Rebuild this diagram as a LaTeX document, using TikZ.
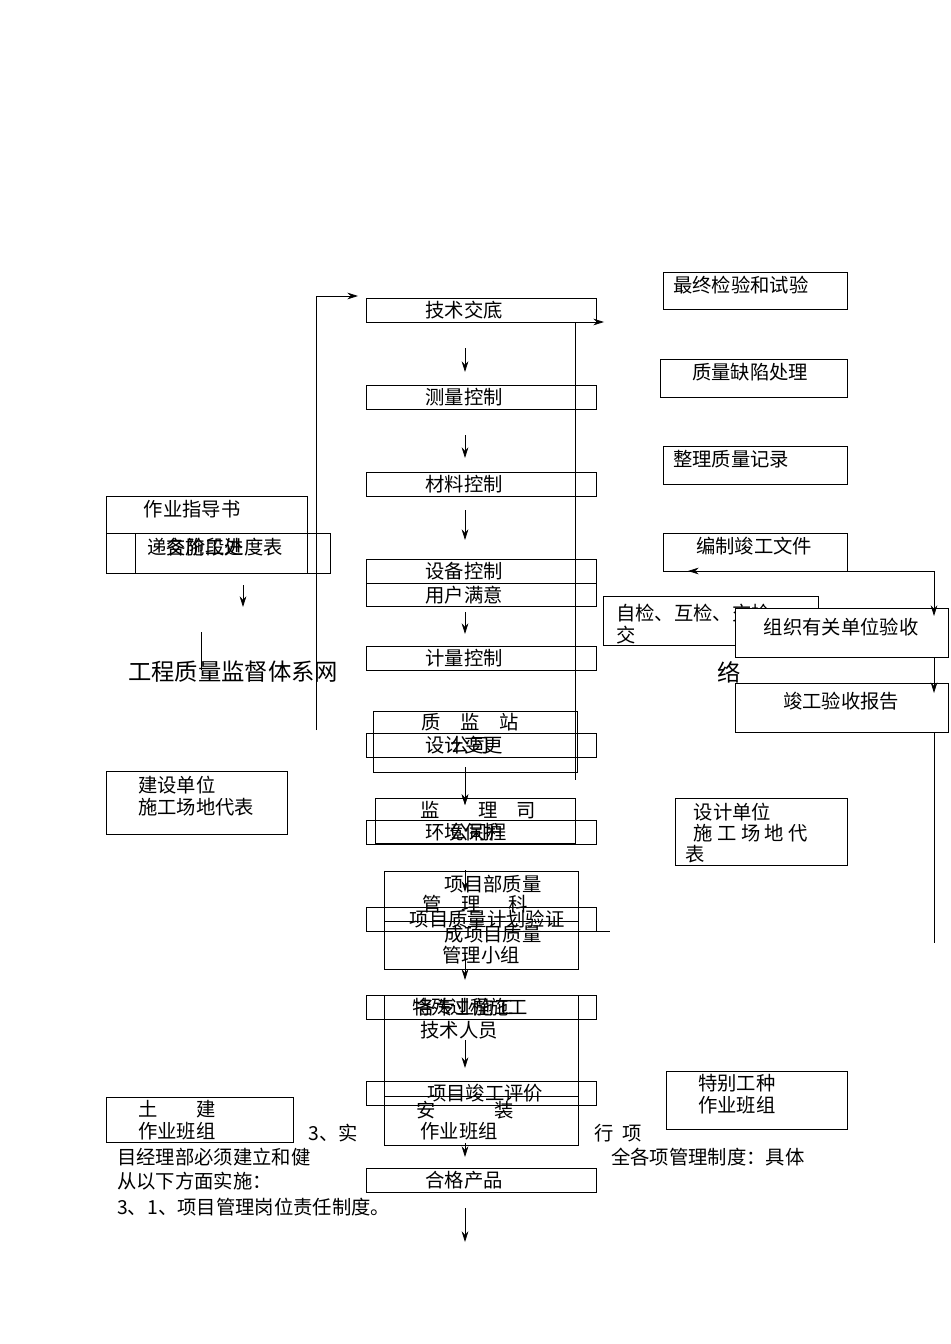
\documentclass[tikz,border=0pt]{standalone}
\usepackage{fontspec}
\setmainfont{Noto Sans CJK SC}
\tikzset{bx/.style={draw,line width=0.6pt},t/.style={font=\fontsize{14.5}{16}\selectfont,inner sep=0pt},ar/.style={-{Stealth[length=8pt,width=5pt]},line width=0.6pt},ln/.style={line width=0.6pt}}
\usetikzlibrary{arrows.meta}
\begin{document}
\begin{tikzpicture}[x=0.75pt,y=-0.75pt]
\useasboundingbox (0,0) rectangle (950,1344);
% center column boxes
\draw[bx] (366,298) rectangle (596,322); \node[t] (b1) at (464,310) {技术交底};
\draw[bx] (366,385) rectangle (596,409); \node[t] (b2) at (464,397) {测量控制};
\draw[bx] (366,472) rectangle (596,496); \node[t] (b3) at (464,484) {材料控制};
\draw[bx] (366,559) rectangle (596,583); \node[t] (b4) at (464,571) {设备控制};
\draw[bx] (366,583) rectangle (596,606); \node[t] (b5) at (464,595) {用户满意};
\draw[bx] (366,646) rectangle (596,670); \node[t] (b6) at (464,658) {计量控制};
\draw[ln] (430,670) -- (545,670);
\draw[bx] (373,711) rectangle (577,772); \node[t] (q1) at (470,722) {质\quad 监\quad 站};
\draw[bx] (366,733) rectangle (596,757); \node[t] (b7) at (464,745) {设计变更}; \node[t] at (470,745) {公司};
\draw[bx] (375,798) rectangle (575,843); \node[t] (q2) at (478,810) {监\qquad 理\quad 司};
\draw[bx] (366,820) rectangle (596,844); \node[t] (b8) at (464,832) {环境保护};\node[t] at (478,832) {公司程};
\draw[bx] (384,871) rectangle (578,969);
\node[t] (q3) at (493,884) {项目部质量}; \node[t] at (475,904) {管\quad 理\quad\ \ 科};
\node[t] at (493,934) {成项目质量}; \node[t] at (481,955) {管理小组};
\draw[bx] (366,907) rectangle (596,931); \node[t] (b9) at (487,919) {项目质量计划验证};
\draw[ln] (384,921) -- (578,921); \draw[ln] (596,931) -- (610,931);
\draw[bx] (384,995) rectangle (578,1145);
\draw[bx] (366,995) rectangle (596,1019); \node[t] (b10) at (470,1007) {特殊过程施工}; \node[t] at (465,1007) {各专业施工};
\node[t] at (459,1030) {技术人员};
\draw[bx] (366,1081) rectangle (596,1105); \node[t] (b11) at (485,1093) {项目竣工评价};
\draw[ln] (384,1096) -- (578,1096);
\node[t] at (465,1110) {安\qquad\quad 装}; \node[t] at (459,1131) {作业班组};
\draw[bx] (366,1168) rectangle (596,1192); \node[t] (b12) at (464,1180) {合格产品};
% arrows center
\foreach \a/\b in {348/372,435/458,510/540,612/634,767/805,785/805,870/892,955/980,1040/1068,1143/1157,1208/1242}
  \draw[ar] (465,\a) -- (465,\b);
% left
\draw[bx] (106,496) rectangle (307,533); \node[t] (l1) at (192,509) {作业指导书};
\draw[bx] (106,533) rectangle (307,573); \draw[bx] (135,533) rectangle (330,573);
\node[t] (l2) at (215,547) {递交阶段进度表}; \node[t] at (205,547) {各施工处};
\draw[ar] (243,585) -- (243,607);
\draw[ln] (201,632) -- (201,670);
\node[font=\fontsize{17.5}{19}\selectfont,inner sep=0pt] (title) at (233,672) {工程质量监督体系网};
\node[font=\fontsize{17.5}{19}\selectfont,inner sep=0pt] (title2) at (729,672) {络};
\coordinate (lc) at (316,730);
\draw[ar] (lc) -- (316,296) -- (358,296);
\draw[bx] (106,771) rectangle (287,834); \node[t,align=left,anchor=west] (l3) at (138,796) {建设单位\\施工场地代表};
\draw[bx] (106,1097) rectangle (293,1142); \node[t,align=left,anchor=west] (l4) at (138,1120) {土\qquad 建\\作业班组};
% paragraph text
\node[t,anchor=west] at (308,1133) {3、实}; \node[t,anchor=west] at (594,1133) {行\ \ 项};
\node[t,anchor=west] at (117,1157) {目经理部必须建立和健}; \node[t,anchor=west] at (611,1157) {全各项管理制度：具体};
\node[t,anchor=west] at (117,1181) {从以下方面实施：};
\node[t,anchor=west] at (117,1207) {3、1、项目管理岗位责任制度。};
% right
\draw[ln] (575,322) -- (575,780); \draw[ar] (575,322) -- (604,322);
\draw[bx] (663,272) rectangle (847,309); \node[t,anchor=west] (r1) at (673,285) {最终检验和试验};
\draw[bx] (660,359) rectangle (847,397); \node[t,anchor=west] (r2) at (692,372) {质量缺陷处理};
\draw[bx] (663,446) rectangle (847,484); \node[t,anchor=west] (r3) at (673,459) {整理质量记录};
\draw[bx] (663,533) rectangle (847,571); \node[t,anchor=west] (r4) at (696,546) {编制竣工文件};
\draw[bx] (603,596) rectangle (818,645); \node[t,anchor=west] (r5) at (616,613) {自检、互检、交检}; \node[t,anchor=west] at (616,635) {交};
\draw[bx,fill=white] (735,608) rectangle (948,657); \node[t] (r6) at (841,627) {组织有关单位验收};
\draw[bx] (735,683) rectangle (948,732); \node[t] (r7) at (841,701) {竣工验收报告};
\coordinate (rc) at (934,571);
\draw[ar] (rc) -- (688,571);
\draw[ar] (rc) -- (934,616);
\draw[ar] (934,657) -- (934,693);
\draw[ln] (934,732) -- (934,943);
\draw[bx] (675,798) rectangle (847,865); \node[t,align=left,anchor=west] (r8) at (685,833) {\ \ 设计单位\\\ \ 施\ 工\ 场\ 地\ 代\\表};
\draw[bx] (666,1071) rectangle (847,1129); \node[t,align=left,anchor=west] (r9) at (698,1094) {特别工种\\作业班组};
\end{tikzpicture}
\end{document}
